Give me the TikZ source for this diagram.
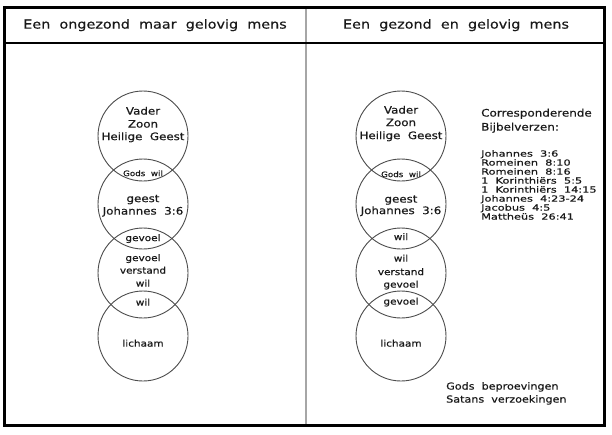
\documentclass[tikz,border=0pt]{standalone}
\usepackage{fontspec}
\setmainfont[WordSpace=2,FakeStretch=1.15,FakeBold=0.4]{DejaVu Sans}
\newfontfamily\widefont[WordSpace=2,FakeStretch=1.35,FakeBold=0.4]{DejaVu Sans}
\begin{document}
\begin{tikzpicture}[x=1pt,y=-1pt,
  txt/.style={inner sep=0pt, text height=0.72em, text depth=0pt, text=black!90},
  head/.style={txt, font=\fontsize{12.5}{14}\selectfont},
  ctext/.style={txt, font=\fontsize{10.3}{12}\selectfont},
  lens/.style={txt, font=\fontsize{9.1}{11}\selectfont},
  lenssmall/.style={txt, font=\fontsize{7.6}{9}\selectfont},
  listtitle/.style={txt, anchor=west, font=\fontsize{10.4}{12}\selectfont},
  listitem/.style={txt, anchor=west, font=\widefont\fontsize{8.4}{10}\selectfont},
  foot/.style={txt, anchor=west, font=\fontsize{9.7}{11}\selectfont},
  ring/.style={circle, draw=black!70, line width=0.9pt, minimum size=90pt, inner sep=0pt},
  frame/.style={draw=black, line width=2.6pt},
  divider/.style={draw=black!35, line width=1.8pt}]
\useasboundingbox (0,0) rectangle (612,434);
\fill[white] (0,0) rectangle (612,434);
% frame
\draw[divider] (306,8) -- (306,424);
\draw[frame] (4.3,7.3) rectangle (604.7,425.7);
\draw[frame] (4.3,43) -- (604.7,43);
% headers
\node[head] (hl) at (155,25) {Een ongezond maar gelovig mens};
\node[head] (hr) at (456,25) {Een gezond en gelovig mens};
% left circles
\node[ring] (L1) at (143,136) {};
\node[ring] (L2) at (143,204) {};
\node[ring] (L3) at (143,273) {};
\node[ring] (L4) at (143,336) {};
\node[ctext] (la) at (143,111) {Vader};
\node[ctext] (lb) at (143,124) {Zoon};
\node[ctext] (lc) at (143,136.5) {Heilige Geest};
\node[lenssmall] (ld) at (143,172.5) {Gods wil};
\node[ctext] (le) at (143,198.5) {geest};
\node[ctext] (lf) at (143,211) {Johannes 3:6};
\node[lens] (lg) at (143,237.5) {gevoel};
\node[lens] (lh) at (143,257.5) {gevoel};
\node[lens] (li) at (143,270) {verstand};
\node[lens] (lj) at (143,283) {wil};
\node[lens] (lk) at (143,302) {wil};
\node[lens] (ll) at (143,343) {lichaam};
% right circles
\node[ring] (R1) at (401,136) {};
\node[ring] (R2) at (401,204) {};
\node[ring] (R3) at (401,273) {};
\node[ring] (R4) at (401,336) {};
\node[ctext] (ra) at (401,110) {Vader};
\node[ctext] (rb) at (401,122.5) {Zoon};
\node[ctext] (rc) at (401,135.5) {Heilige Geest};
\node[lenssmall] (rd) at (401,173.5) {Gods wil};
\node[ctext] (re) at (401,199) {geest};
\node[ctext] (rf) at (401,210.5) {Johannes 3:6};
\node[lens] (rg) at (401,236.5) {wil};
\node[lens] (rh) at (401,258) {wil};
\node[lens] (ri) at (401,271.5) {verstand};
\node[lens] (rj) at (401,284) {gevoel};
\node[lens] (rk) at (401,301) {gevoel};
\node[lens] (rl) at (401,343) {lichaam};
% list
\node[listtitle] (t1) at (481,113) {Corresponderende};
\node[listtitle] (t2) at (481,127) {Bijbelverzen:};
\node[listitem] (v1) at (481,153) {Johannes 3:6};
\node[listitem] (v2) at (481,162) {Romeinen 8:10};
\node[listitem] (v3) at (481,171) {Romeinen 8:16};
\node[listitem] (v4) at (481,180) {1 Korinthiërs 5:5};
\node[listitem] (v5) at (481,189) {1 Korinthiërs 14:15};
\node[listitem] (v6) at (481,198) {Johannes 4:23-24};
\node[listitem] (v7) at (481,207) {Jacobus 4:5};
\node[listitem] (v8) at (481,216) {Mattheüs 26:41};
% footer
\node[foot] (f1) at (446,386) {Gods beproevingen};
\node[foot] (f2) at (446,399) {Satans verzoekingen};
\end{tikzpicture}
\end{document}
